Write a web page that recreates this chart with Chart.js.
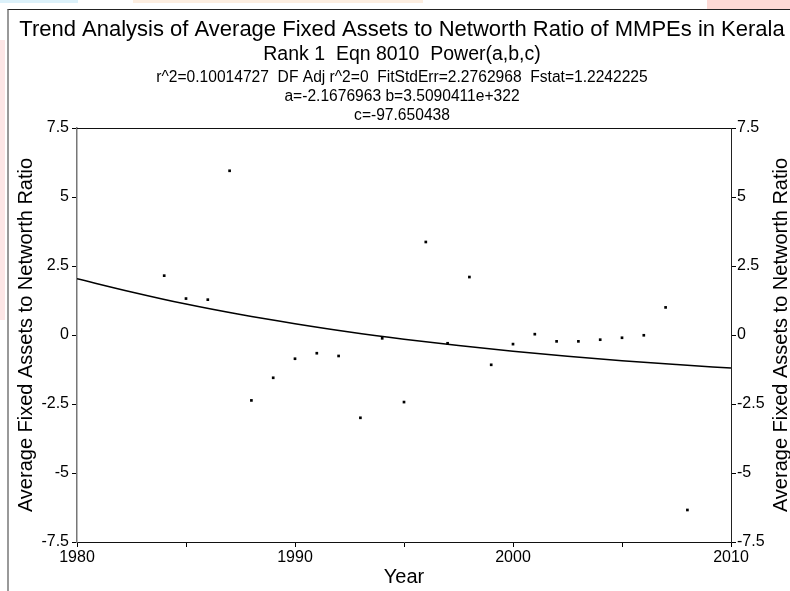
<!DOCTYPE html>
<html>
<head>
<meta charset="utf-8">
<script src="https://cdn.jsdelivr.net/npm/chart.js@4.4.1/dist/chart.umd.min.js"></script>
<style>
  body { margin: 0; background: #fff; }
  #wrap { position: relative; width: 790px; height: 591px; overflow: hidden; }
  .smear { position: absolute; }
  #frame { position: absolute; left: 7px; top: 9px; right: -4px; bottom: -4px;
           border-top: 1px solid #222; border-left: 2px solid #999; }
  canvas { position: absolute; left: 0; top: 0; }
</style>
</head>
<body>
<div id="wrap">
  <div class="smear" style="left:0;top:0;width:78px;height:3px;background:#dcf1fa"></div>
  <div class="smear" style="left:133px;top:0;width:290px;height:3px;background:#fdeee0"></div>
  <div class="smear" style="left:707px;top:0;width:83px;height:9px;background:#fdd9d5"></div>
  <div class="smear" style="left:0;top:40px;width:5px;height:280px;background:#fde6e6"></div>
  <div id="frame"></div>
  <canvas id="chart" width="790" height="591"></canvas>
</div>
<script>
// header text
var headerLines = [
  'Trend Analysis of Average Fixed Assets to Networth Ratio of MMPEs in Kerala',
  'Rank 1  Eqn 8010  Power(a,b,c)',
  'r^2=0.10014727  DF Adj r^2=0  FitStdErr=2.2762968  Fstat=1.2242225',
  'a=-2.1676963 b=3.5090411e+322',
  'c=-97.650438'
];
var axisTitleY = 'Average Fixed Assets to Networth Ratio';
var axisTitleX = 'Year';

// observed values
var years = [1984, 1985, 1986, 1987, 1988, 1989, 1990, 1991, 1992, 1993, 1994, 1995, 1996,
             1997, 1998, 1999, 2000, 2001, 2002, 2003, 2004, 2005, 2006, 2007, 2008];
var ratio = [2.15, 1.32, 1.28, 5.95, -2.37, -1.55, -0.86, -0.66, -0.76, -3.0, -0.12, -2.43, 3.37,
             -0.30, 2.10, -1.08, -0.33, 0.03, -0.23, -0.23, -0.17, -0.10, -0.01, 1.00, -6.34];

// fitted curve
var fitYears = [1980, 1982.5, 1985, 1987.5, 1990, 1992.5, 1995, 1997.5, 2000, 2002.5, 2005, 2007.5, 2010];
var fitRatio = [2.04, 1.56, 1.12, 0.74, 0.41, 0.11, -0.15, -0.38, -0.59, -0.77, -0.93, -1.07, -1.20];

// ticks
var xTicks = [1980, 1985, 1990, 1995, 2000, 2005, 2010];
var xTickLabels = ['1980', '', '1990', '', '2000', '', '2010'];
var yTicks = [-7.5, -5, -2.5, 0, 2.5, 5, 7.5];
var yTickLabels = ['-7.5', '-5', '-2.5', '0', '2.5', '5', '7.5'];

var FONT = '"Liberation Sans", Arial, sans-serif';
Chart.defaults.font.family = FONT;
Chart.defaults.color = '#000';

function toPoints(xs, ys) {
  return xs.map(function(x, i) { return { x: x, y: ys[i] }; });
}

function setTicks(values) {
  return function(scale) {
    scale.ticks = values.map(function(v) { return { value: v }; });
  };
}

function labelFrom(values, labels) {
  return function(v) {
    var i = values.indexOf(v);
    return i < 0 ? '' : labels[i];
  };
}

var headerPlugin = {
  id: 'header',
  afterDraw: function(chart, args, opts) {
    var ctx = chart.ctx;
    ctx.save();
    ctx.fillStyle = '#000';
    ctx.textAlign = 'center';
    ctx.textBaseline = 'alphabetic';
    headerLines.forEach(function(line, i) {
      ctx.font = opts.sizes[i] + 'px ' + FONT;
      ctx.fillText(line, opts.x, opts.baselines[i]);
    });
    // top edge of the plot box
    var a = chart.chartArea;
    ctx.strokeStyle = '#111';
    ctx.lineWidth = 1;
    ctx.beginPath();
    ctx.moveTo(a.left, a.top + 0.5);
    ctx.lineTo(a.right, a.top + 0.5);
    ctx.stroke();
    // right axis title, reading upward like the left one
    ctx.font = '20px ' + FONT;
    ctx.translate(787, (a.top + a.bottom) / 2);
    ctx.rotate(-Math.PI / 2);
    ctx.fillText(axisTitleY, 0, 0);
    ctx.restore();
  }
};

new Chart(document.getElementById('chart'), {
  type: 'scatter',
  data: {
    datasets: [{
      label: 'data',
      data: toPoints(years, ratio),
      pointStyle: 'rect',
      pointRadius: 1.9,
      pointBorderWidth: 0,
      backgroundColor: '#000',
      borderColor: '#000'
    }, {
      label: 'fit',
      data: toPoints(fitYears, fitRatio),
      showLine: true,
      pointRadius: 0,
      borderColor: '#000',
      borderWidth: 1.5,
      cubicInterpolationMode: 'monotone'
    }]
  },
  options: {
    responsive: false,
    animation: false,
    devicePixelRatio: 1,
    layout: { padding: { top: 128, left: 0, right: 0, bottom: 0 } },
    plugins: {
      legend: { display: false },
      tooltip: { enabled: false },
      header: { x: 402, sizes: [22, 19.5, 15.6, 15.6, 15.6], baselines: [36, 60, 82, 101, 120] }
    },
    scales: {
      x: {
        type: 'linear',
        position: 'bottom',
        min: 1980,
        max: 2010,
        afterBuildTicks: setTicks(xTicks),
        afterFit: function(scale) { scale.height = 49; },
        ticks: {
          autoSkip: false,
          maxRotation: 0,
          padding: 1,
          font: { size: 16 },
          callback: labelFrom(xTicks, xTickLabels)
        },
        grid: { drawOnChartArea: false, tickLength: 5, color: '#000' },
        border: { color: '#111' },
        title: { display: true, text: axisTitleX, font: { size: 20 }, padding: { top: 0, bottom: 2 } }
      },
      y: {
        position: 'left',
        min: -7.5,
        max: 7.5,
        afterBuildTicks: setTicks(yTicks),
        afterFit: function(scale) { scale.width = 77; },
        ticks: { padding: 3, font: { size: 16 }, callback: labelFrom(yTicks, yTickLabels) },
        grid: { drawOnChartArea: false, tickLength: 5, color: '#000' },
        border: { color: '#777', width: 1.5 },
        title: { display: true, text: axisTitleY, font: { size: 20 }, padding: { top: 14, bottom: 0 } }
      },
      y2: {
        position: 'right',
        min: -7.5,
        max: 7.5,
        afterBuildTicks: setTicks(yTicks),
        afterFit: function(scale) { scale.width = 59; },
        ticks: { padding: 1, font: { size: 16 }, callback: labelFrom(yTicks, yTickLabels) },
        grid: { drawOnChartArea: false, tickLength: 5, color: '#000' },
        border: { color: '#222' }
      }
    }
  },
  plugins: [headerPlugin]
});
</script>
</body>
</html>
